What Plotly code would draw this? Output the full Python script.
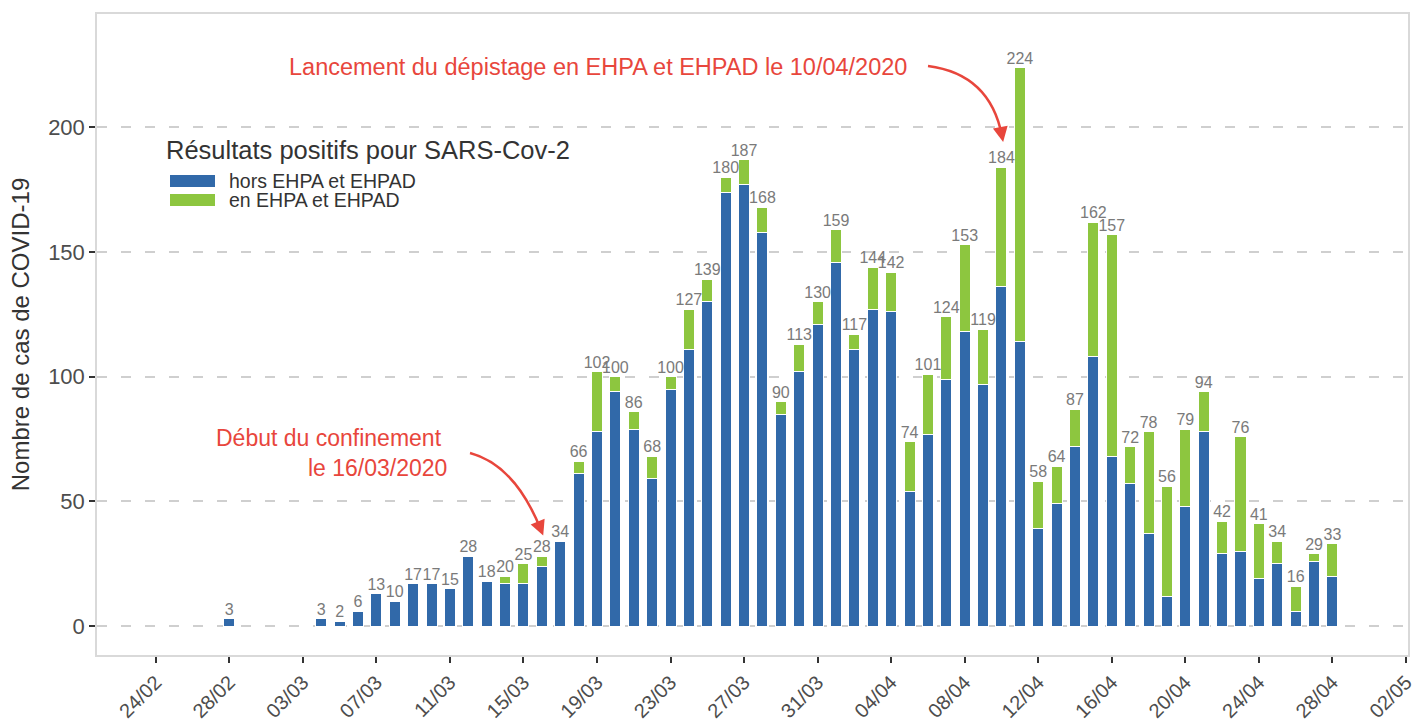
import plotly.graph_objects as go

# ---------------- data ----------------
dates = ["2020-02-28", "2020-03-04", "2020-03-05", "2020-03-06", "2020-03-07",
         "2020-03-08", "2020-03-09", "2020-03-10", "2020-03-11", "2020-03-12",
         "2020-03-13", "2020-03-14", "2020-03-15", "2020-03-16", "2020-03-17",
         "2020-03-18", "2020-03-19", "2020-03-20", "2020-03-21", "2020-03-22",
         "2020-03-23", "2020-03-24", "2020-03-25", "2020-03-26", "2020-03-27",
         "2020-03-28", "2020-03-29", "2020-03-30", "2020-03-31", "2020-04-01",
         "2020-04-02", "2020-04-03", "2020-04-04", "2020-04-05", "2020-04-06",
         "2020-04-07", "2020-04-08", "2020-04-09", "2020-04-10", "2020-04-11",
         "2020-04-12", "2020-04-13", "2020-04-14", "2020-04-15", "2020-04-16",
         "2020-04-17", "2020-04-18", "2020-04-19", "2020-04-20", "2020-04-21",
         "2020-04-22", "2020-04-23", "2020-04-24", "2020-04-25", "2020-04-26",
         "2020-04-27", "2020-04-28"]

hors_ehpad = [3, 3, 2, 6, 13,
              10, 17, 17, 15, 28,
              18, 17, 17, 24, 34,
              61, 78, 94, 79, 59,
              95, 111, 130, 174, 177,
              158, 85, 102, 121, 146,
              111, 127, 126, 54, 77,
              99, 118, 97, 136, 114,
              39, 49, 72, 108, 68,
              57, 37, 12, 48, 78,
              29, 30, 19, 25, 6,
              26, 20]

en_ehpad = [0, 0, 0, 0, 0,
            0, 0, 0, 0, 0,
            0, 3, 8, 4, 0,
            5, 24, 6, 7, 9,
            5, 16, 9, 6, 10,
            10, 5, 11, 9, 13,
            6, 17, 16, 20, 24,
            25, 35, 22, 48, 110,
            19, 15, 15, 54, 89,
            15, 41, 44, 31, 16,
            13, 46, 22, 9, 10,
            3, 13]

totals = [a + b for a, b in zip(hors_ehpad, en_ehpad)]

tick_dates = ["2020-02-24", "2020-02-28", "2020-03-03", "2020-03-07", "2020-03-11",
              "2020-03-15", "2020-03-19", "2020-03-23", "2020-03-27", "2020-03-31",
              "2020-04-04", "2020-04-08", "2020-04-12", "2020-04-16", "2020-04-20",
              "2020-04-24", "2020-04-28", "2020-05-02"]
tick_labels = ["24/02", "28/02", "03/03", "07/03", "11/03", "15/03", "19/03", "23/03",
               "27/03", "31/03", "04/04", "08/04", "12/04", "16/04", "20/04", "24/04",
               "28/04", "02/05"]

series_names = ["hors EHPA et EHPAD", "en EHPA et EHPAD"]
legend_title = "Résultats positifs pour SARS-Cov-2"

# ---------------- style ----------------
BLUE = "#3169A9"
GREEN = "#8DC63F"
RED = "#E8463C"
FONT = "Liberation Sans, Arial, sans-serif"
W, H = 1416, 722
L, R, T, B = 97, 8, 14, 67
PW, PH = W - L - R, H - T - B
DAY_MS = 86400000


def px(x):  # page pixel -> paper fraction
    return (x - L) / PW


def py(y):
    return (H - B - y) / PH


fig = go.Figure()
fig.add_trace(go.Bar(x=dates, y=hors_ehpad, name=series_names[0],
                     marker=dict(color=BLUE, line=dict(color="white", width=1)),
                     width=0.6 * DAY_MS, showlegend=False))
fig.add_trace(go.Bar(x=dates, y=en_ehpad, name=series_names[1],
                     marker=dict(color=GREEN, line=dict(color="white", width=1)),
                     width=0.6 * DAY_MS, showlegend=False))
fig.add_trace(go.Scatter(x=dates, y=totals, mode="text", text=[str(t) for t in totals],
                         textposition="top center",
                         textfont=dict(size=16, color="#7a7a7a", family=FONT),
                         showlegend=False, hoverinfo="skip"))

shapes = []
annotations = []

# manual legend
shapes.append(dict(type="rect", xref="paper", yref="paper",
                   x0=px(170), x1=px(215), y0=py(187), y1=py(175),
                   fillcolor=BLUE, line=dict(width=0)))
shapes.append(dict(type="rect", xref="paper", yref="paper",
                   x0=px(170), x1=px(215), y0=py(206), y1=py(194),
                   fillcolor=GREEN, line=dict(width=0)))
annotations.append(dict(xref="paper", yref="paper", x=px(164), y=py(150),
                        text=legend_title, showarrow=False, xanchor="left", yanchor="middle",
                        font=dict(size=25.5, color="#333333", family=FONT)))
annotations.append(dict(xref="paper", yref="paper", x=px(227), y=py(181),
                        text=series_names[0], showarrow=False, xanchor="left", yanchor="middle",
                        font=dict(size=19.5, color="#333333", family=FONT)))
annotations.append(dict(xref="paper", yref="paper", x=px(227), y=py(200),
                        text=series_names[1], showarrow=False, xanchor="left", yanchor="middle",
                        font=dict(size=19.5, color="#333333", family=FONT)))

# event annotations
annotations.append(dict(xref="paper", yref="paper", x=px(598), y=py(67),
                        text="Lancement du dépistage en EHPA et EHPAD le 10/04/2020",
                        showarrow=False, xanchor="center", yanchor="middle",
                        font=dict(size=23.5, color=RED, family=FONT)))
annotations.append(dict(xref="paper", yref="paper", x=px(444), y=py(438),
                        text="Début du confinement",
                        showarrow=False, xanchor="right", yanchor="middle",
                        font=dict(size=23, color=RED, family=FONT)))
annotations.append(dict(xref="paper", yref="paper", x=px(449), y=py(468),
                        text="le 16/03/2020",
                        showarrow=False, xanchor="right", yanchor="middle",
                        font=dict(size=23, color=RED, family=FONT)))


def curve(p0, c, p2):
    return ("M {:.5f},{:.5f} Q {:.5f},{:.5f} {:.5f},{:.5f}".format(
        px(p0[0]), py(p0[1]), px(c[0]), py(c[1]), px(p2[0]), py(p2[1])))


for p0, c, p2 in [((928, 66), (990, 74), (1002, 136)),
                  ((470, 453), (515, 465), (541, 530))]:
    shapes.append(dict(type="path", xref="paper", yref="paper", path=curve(p0, c, p2),
                       line=dict(color=RED, width=2.5)))
    dx, dy = p2[0] - c[0], p2[1] - c[1]
    n = (dx * dx + dy * dy) ** 0.5
    annotations.append(dict(xref="paper", yref="paper", x=px(p2[0] + dx / n * 6),
                            y=py(p2[1] + dy / n * 6), text="", showarrow=True,
                            ax=-dx / n * 10, ay=-dy / n * 10,
                            arrowhead=2, arrowsize=1.2, arrowwidth=2.5, arrowcolor=RED))

fig.update_layout(
    width=W, height=H,
    margin=dict(l=L, r=R, t=T, b=B, autoexpand=False),
    barmode="stack",
    plot_bgcolor="white", paper_bgcolor="white",
    font=dict(family=FONT, color="#4d4d4d"),
    shapes=shapes, annotations=annotations,
    showlegend=False,
)
fig.update_xaxes(
    type="date",
    range=["2020-02-20 19:20", "2020-05-02 02:40"],
    tickvals=tick_dates, ticktext=tick_labels, tickangle=-45,
    ticks="outside", ticklen=6, tickwidth=2, tickcolor="#333333",
    tickfont=dict(size=20, color="#4d4d4d"),
    showgrid=False, zeroline=False,
    showline=True, mirror=True, linecolor="#d9d9d9", linewidth=1.5,
)
fig.update_yaxes(
    range=[-11.63, 245.5],
    tickvals=[0, 50, 100, 150, 200],
    ticks="outside", ticklen=6, tickwidth=2, tickcolor="#333333",
    tickfont=dict(size=22, color="#4d4d4d"),
    showgrid=True, gridcolor="#cfcfcf", gridwidth=1.5, griddash="10px,14px",
    zeroline=False,
    showline=True, mirror=True, linecolor="#d9d9d9", linewidth=1.5,
    title=dict(text="Nombre de cas de COVID-19", font=dict(size=24, color="#333333"),
               standoff=12),
)

# remove the default 8px page margin so the 1416x722 figure fills the window exactly
fig.write_html("out.html",
               config={"displayModeBar": False},
               post_script="document.body.style.margin='0';document.body.style.overflow='hidden';")
